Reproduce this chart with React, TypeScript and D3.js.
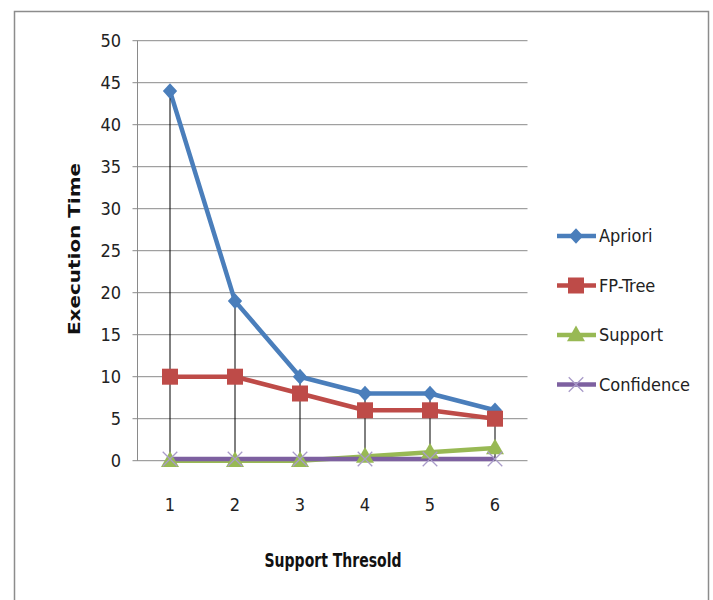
import * as d3 from 'd3'
import React from 'react'

const categories = ['1', '2', '3', '4', '5', '6']
const apriori = [44, 19, 10, 8, 8, 6]
const fpTree = [10, 10, 8, 6, 6, 5]
const support = [0, 0, 0, 0.5, 1, 1.5]
const confidence = [0.2, 0.2, 0.2, 0.2, 0.2, 0.2]
const yTicks = [0, 5, 10, 15, 20, 25, 30, 35, 40, 45, 50]

const seriesNames = ['Apriori', 'FP-Tree', 'Support', 'Confidence']
const seriesColors = ['#4a7ebb', '#be4b48', '#98b954', '#7d60a0']

const font = '"DejaVu Sans Condensed", "DejaVu Sans", sans-serif'

const Marker = ({ kind, x, y }: { kind: number, x: number, y: number }) => {
  if (kind === 0) {
    return <path d={d3.symbol(d3.symbolDiamond2, 130)()!} transform={`translate(${x},${y}) scale(1,1.1)`} fill='#4a7ebb' />
  }
  if (kind === 1) {
    return <rect x={x - 8} y={y - 8} width={16} height={16} fill='#be4b48' />
  }
  if (kind === 2) {
    return <path d={d3.symbol(d3.symbolTriangle, 140)()!} transform={`translate(${x},${y + 1})`} fill='#98b954' />
  }
  return <path d={d3.symbol(d3.symbolTimes, 140)()!} transform={`translate(${x},${y})`} fill='none' stroke='#a99bc9' strokeWidth={1.3} />
}

export default function App() {
  const
    left = 137.5,
    right = 527.5,
    top = 40.7,
    bottom = 460.7,
    x = d3.scaleBand<string>().domain(categories).range([left, right]),
    y = d3.scaleLinear().domain([0, 50]).range([bottom, top]),
    cx = (c: string) => x(c)! + x.bandwidth() / 2,
    all = [apriori, fpTree, support, confidence],
    line = d3.line<number>().x((_, i) => cx(categories[i])).y(d => y(d))

  return (
    <svg width={713} height={600} style={{ position: 'absolute', left: 0, top: 0, background: '#fff' }}>
      <rect x={14.5} y={11.5} width={694} height={600} fill='#fff' stroke='#8c8c8c' strokeWidth={1.5} />

      {yTicks.map(t => (
        <g key={t}>
          <line x1={left - 5} x2={right} y1={y(t)} y2={y(t)} stroke='#8a8a8a' strokeWidth={1} />
          <text x={121} y={y(t)} dy='0.36em' textAnchor='end' fontFamily={font} fontSize={18} fill='#222'>{t}</text>
        </g>
      ))}
      <line x1={left} x2={left} y1={top} y2={bottom} stroke='#8a8a8a' strokeWidth={1} />

      {categories.map(c => (
        <text key={c} x={cx(c)} y={505} dy='0.36em' textAnchor='middle' fontFamily={font} fontSize={18} fill='#222'>{c}</text>
      ))}

      {all.map((s, k) => (
        <path key={k} d={line(s)!} fill='none' stroke={seriesColors[k]} strokeWidth={4.5} strokeLinejoin='round' />
      ))}

      {categories.map((c, i) => (
        <line key={c} x1={cx(c)} x2={cx(c)} y1={y(d3.max(all, s => s[i])!)} y2={bottom} stroke='#000' strokeWidth={1} />
      ))}

      {all.map((s, k) => s.map((v, i) => (
        <Marker key={`${k}-${i}`} kind={k} x={cx(categories[i])} y={y(v)} />
      )))}

      <text transform='translate(80,249) rotate(-90)' textAnchor='middle' fontFamily='"DejaVu Sans", sans-serif' fontWeight='bold' fontSize={16} fill='#111' textLength={172} lengthAdjust='spacingAndGlyphs'>Execution Time</text>
      <text x={333} y={560} dy='0.36em' textAnchor='middle' fontFamily={font} fontWeight='bold' fontSize={19} fill='#111' textLength={137} lengthAdjust='spacingAndGlyphs'>Support Thresold</text>

      {seriesNames.map((n, k) => {
        const ly = 236 + k * 49.5
        return (
          <g key={n}>
            <line x1={557} x2={596} y1={ly} y2={ly} stroke={seriesColors[k]} strokeWidth={4.5} />
            <Marker kind={k} x={576} y={ly} />
            <text x={599} y={ly} dy='0.36em' fontFamily={font} fontSize={18} fill='#222'>{n}</text>
          </g>
        )
      })}
    </svg>
  )
}
